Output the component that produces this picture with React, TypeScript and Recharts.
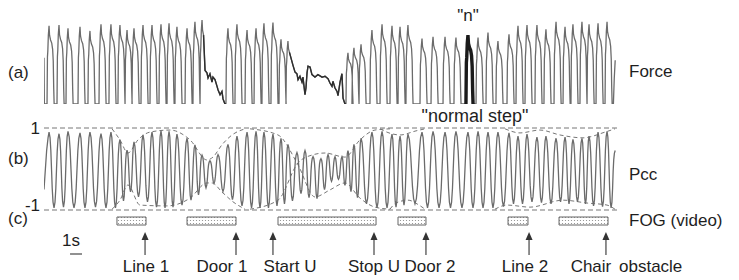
import React from "react";
import {
  ComposedChart,
  LineChart,
  Line,
  XAxis,
  YAxis,
  ReferenceLine,
  ReferenceArea,
  Scatter,
} from "recharts";

const W = 739;
const H = 280;
const T_END = 48; // seconds shown on the time axis
const FONT = "'Liberation Sans', Arial, Helvetica, sans-serif";
const INK = "#1e1e1e";
const TRACE = "#6b6b6b";

// ---- (a) Force: step peaks (time in s, peak force in % of max)
const seg1Times = [0.42, 1.25, 2.0, 3.0, 3.83, 4.75, 5.58, 6.33, 6.92, 7.5, 8.25, 9.0, 9.75, 10.42, 11.08, 11.92, 12.58, 13.17];
const seg1Peaks = [93, 94, 90, 92, 87, 95, 95, 94, 88, 90, 94, 94, 95, 96, 92, 90, 98, 100];
const seg2Times = [15.33, 16.08, 16.92, 17.67, 18.33, 19.08, 19.75, 20.33];
const seg2Peaks = [90, 95, 88, 90, 96, 97, 77, 75];
const seg3Times = [25.33, 25.83, 26.42, 27.33, 28.17, 29.0, 29.67, 30.33, 31.5, 32.42, 33.42, 34.33, 35.33, 36.17, 37.0, 37.83, 38.75, 39.5, 40.25, 41.08, 41.83, 42.67, 43.42, 44.08, 44.83, 45.42, 46.17, 46.92];
const seg3Peaks = [61, 67, 71, 88, 95, 93, 92, 94, 78, 80, 80, 79, 82, 79, 85, 75, 83, 93, 94, 94, 89, 98, 92, 95, 98, 95, 96, 98];
const normalStepTime = 35.33;

// force during freezing episodes (trembling, no clean steps)
const fog1T = [13.42, 13.58, 13.67, 13.83, 14.0, 14.08, 14.25, 14.42, 14.5, 14.67, 14.83, 14.92, 15.08, 15.12];
const fog1F = [40, 37, 31, 36, 26, 32, 29, 21, 17, 11, 15, 6, 0, 0];
const fog2T = [20.75, 20.92, 21.08, 21.17, 21.33, 21.5, 21.58, 21.75, 21.83, 21.92, 22.0, 22.17, 22.33, 22.58, 22.83, 23.17, 23.42, 23.67, 23.83, 24.0, 24.08, 24.25, 24.42, 24.5, 24.67, 24.83, 24.92, 25.08];
const fog2F = [46, 38, 36, 29, 33, 26, 32, 11, 19, 37, 45, 44, 35, 32, 35, 32, 33, 30, 25, 21, 27, 19, 15, 10, 26, 36, 7, 0];
const leadT = [0, 0.03];
const leadF = [55, 0];
const tailT = [47.45, 47.52, 47.6];
const tailF = [0, 30, 52];

// shape of one step around its peak: [seconds from peak, fraction of peak]
const stepShape: [number, number][] = [
  [-0.167, 0], [-0.133, 0.6], [-0.1, 0.68], [-0.058, 0.88], [0, 1], [0.042, 0.88],
  [0.125, 0.82], [0.225, 0.78], [0.3, 0.7], [0.35, 0.55], [0.39, 0.2], [0.425, 0],
];

// ---- (b) Pcc: per cycle maximum and following minimum
const pccTimes = [0.42, 1.25, 2.0, 3.0, 3.83, 4.75, 5.58, 6.33, 6.92, 7.5, 8.25, 9.0, 9.75, 10.42, 11.08, 11.92, 12.58, 13.17, 13.83, 14.5, 15.33, 16.08, 16.92, 17.67, 18.33, 19.08, 19.75, 20.33, 21.08, 21.75, 22.42, 23.08, 23.67, 24.25, 24.83, 25.33, 25.83, 26.42, 27.33, 28.17, 29.0, 29.67, 30.33, 31.5, 32.42, 33.42, 34.33, 35.33, 36.17, 37.0, 37.83, 38.75, 39.5, 40.25, 41.08, 41.83, 42.67, 43.42, 44.08, 44.83, 45.42, 46.17, 46.92];
const pccHigh = [0.9, 0.86, 0.92, 0.88, 0.9, 0.86, 0.9, 0.72, 0.46, 0.66, 0.83, 0.9, 0.93, 0.92, 0.85, 0.75, 0.59, 0.34, 0.2, 0.35, 0.6, 0.8, 0.9, 0.92, 0.9, 0.85, 0.75, 0.6, 0.4, 0.45, 0.3, 0.25, 0.35, 0.3, 0.3, 0.45, 0.6, 0.75, 0.9, 0.92, 0.85, 0.8, 0.85, 0.9, 0.92, 0.9, 0.92, 0.9, 0.92, 0.9, 0.9, 0.88, 0.8, 0.85, 0.78, 0.8, 0.75, 0.78, 0.72, 0.75, 0.8, 0.9, 0.92];
const pccLow = [-0.95, -0.93, -0.95, -0.95, -0.93, -0.95, -0.95, -0.78, -0.56, -0.68, -0.8, -0.93, -0.95, -0.93, -0.88, -0.76, -0.63, -0.46, -0.35, -0.55, -0.75, -0.9, -0.95, -0.95, -0.95, -0.9, -0.85, -0.78, -0.6, -0.7, -0.72, -0.5, -0.3, -0.25, -0.4, -0.55, -0.7, -0.85, -0.95, -0.95, -0.93, -0.88, -0.85, -0.95, -0.95, -0.95, -0.95, -0.95, -0.95, -0.95, -0.92, -0.85, -0.85, -0.8, -0.82, -0.85, -0.8, -0.85, -0.8, -0.85, -0.9, -0.92, -0.95];
const pccStart = -0.5;
const pccEndTime = 47.6;
const pccEndValue = 0.45;

// dashed amplitude envelopes: [time s, pcc]
const envelopes: [number, number][][] = [
  [[5.67, 0.98], [6.33, 0.71], [7.0, 0.39], [7.83, 0.71], [8.83, 0.9], [10.5, 0.95], [12.17, 0.71], [13.58, 0.22], [14.08, 0.29], [14.83, 0.59], [15.67, 0.83], [16.75, 0.98]],
  [[5.67, -0.98], [6.33, -0.76], [7.0, -0.39], [8.0, -0.88], [10.25, -0.9], [12.17, -0.71], [13.58, -0.34], [14.0, -0.34], [14.83, -0.56], [15.75, -0.8], [16.75, -0.98]],
  [[17.17, 0.98], [19.5, 0.83], [21.17, 0.1], [22.58, -0.68], [23.83, -0.51], [25.08, -0.34], [26.33, -0.71], [27.58, -0.93], [28.83, -0.98]],
  [[17.17, -0.98], [19.5, -0.76], [21.17, 0.15], [22.33, 0.34], [23.42, 0.39], [25.08, 0.29], [26.33, 0.71], [27.58, 0.95], [28.83, 0.98]],
  [[28.0, 0.98], [28.75, 0.88], [29.67, 0.83], [31.0, 0.93], [31.75, 0.98]],
  [[28.83, -0.98], [29.33, -0.83], [30.33, -0.76], [31.25, -0.88], [31.75, -0.98]],
  [[38.42, 0.98], [39.67, 0.88], [41.33, 0.95], [43.0, 0.83], [44.92, 0.76], [46.75, 0.9], [47.58, 0.98]],
  [[37.58, -0.98], [38.58, -0.88], [40.5, -0.93], [43.25, -0.76], [45.25, -0.83], [46.92, -0.88], [47.58, -0.98]],
];

// ---- (c) FOG episodes from video (start, end in s) and obstacles
const fogStart = [6.08, 11.92, 19.5, 29.5, 38.67, 42.92];
const fogEnd = [8.5, 16.0, 27.67, 31.83, 40.33, 47.0];
const obstacleNames = ["Line 1", "Door 1", "Start U", "Stop U", "Door 2", "Line 2", "Chair"];
const obstacleTimes = [8.42, 16.0, 19.08, 27.5, 31.83, 40.42, 46.83];
const obstacleLabelTimes = [8.5, 14.83, 20.5, 27.5, 32.17, 40.08, 45.58];
const scaleBar = [2.17, 3.17]; // 1 s

type Pt = { t: number; v: number };

const zipPts = (ts: number[], vs: number[]): Pt[] => ts.map((t, i) => ({ t, v: vs[i] }));

function stepTrace(times: number[], peaks: number[], cutLast = false): Pt[] {
  const pts: Pt[] = [];
  times.forEach((t, i) => {
    const shape = cutLast && i === times.length - 1 ? stepShape.filter(([dt]) => dt <= 0.13) : stepShape;
    shape.forEach(([dt, f]) => pts.push({ t: t + dt, v: peaks[i] * f }));
  });
  return pts;
}

const s1 = stepTrace(seg1Times, seg1Peaks, true);
const s2 = stepTrace(seg2Times, seg2Peaks, true);
const s3 = stepTrace(seg3Times, seg3Peaks);
const f1 = zipPts(fog1T, fog1F);
const f2 = zipPts(fog2T, fog2F);
const forceData: Pt[] = [...zipPts(leadT, leadF), ...s1, ...f1, ...s2, ...f2, ...s3, ...zipPts(tailT, tailF)];
const fog1Line = [s1[s1.length - 1], ...f1, s2[0]];
const fog2Line = [s2[s2.length - 1], ...f2, s3[0]];
const nIdx = seg3Times.indexOf(normalStepTime);
const normalStep = stepTrace([seg3Times[nIdx]], [seg3Peaks[nIdx]]);

// fractions of the cycle after each maximum: [fraction, which level, factor]
const pccShape: [number, "h" | "l" | "m1" | "m2" | "hn", number][] = [
  [0, "h", 1], [0.1, "h", 0.85], [0.18, "h", 0.5], [0.25, "m1", 0.1], [0.32, "l", 0.5],
  [0.4, "l", 0.85], [0.5, "l", 1], [0.6, "l", 0.85], [0.68, "l", 0.5], [0.75, "m2", 0.1],
  [0.82, "hn", 0.5], [0.9, "hn", 0.85],
];

function pccTrace(): Pt[] {
  const pts: Pt[] = [{ t: 0, v: pccStart }];
  const n = pccTimes.length;
  for (let i = 0; i < n; i++) {
    const p = pccTimes[i];
    const h = pccHigh[i];
    const l = pccLow[i];
    const next = i < n - 1 ? pccTimes[i + 1] : pccEndTime;
    const hn = i < n - 1 ? pccHigh[i + 1] : pccEndValue;
    const d = next - p;
    if (i === 0) pts.push({ t: p - 0.2, v: 0.5 * h }, { t: p - 0.08, v: 0.85 * h });
    const level = { h, l, hn, m1: h + l, m2: l + hn };
    pccShape.forEach(([f, k, s]) => pts.push({ t: p + f * d, v: level[k] * s }));
  }
  pts.push({ t: pccEndTime, v: pccEndValue });
  return pts;
}
const pccData = pccTrace();

const layer: React.CSSProperties = { position: "absolute", left: 0, top: 0 };

function Arrow(props: any) {
  const { cx, cy } = props;
  if (cx == null || cy == null) return null;
  return (
    <g>
      <path d={`M${cx},${cy} L${cx - 3.5},${cy + 8} L${cx + 3.5},${cy + 8} Z`} fill="#333" />
      <line x1={cx} y1={cy + 6} x2={cx} y2={cy + 23} stroke="#333" strokeWidth={1.1} />
    </g>
  );
}

function PccTick(props: any) {
  const { x, y, payload } = props;
  const neg = payload.value < 0;
  return (
    <text x={x} y={y} dy={neg ? 1 : 6} textAnchor="end" fontSize={17} fontFamily={FONT} fill={INK}>
      {neg ? "-1" : "1"}
    </text>
  );
}

export default function App() {
  const txt = { fontFamily: FONT, fontSize: 17, fill: INK };
  return (
    <div style={{ position: "absolute", left: 0, top: 0, width: W, height: H, background: "#fff", overflow: "hidden" }}>
      {/* (a) force */}
      <div style={layer}>
        <LineChart width={W} height={H} margin={{ top: 20, right: 119, bottom: 176, left: 44 }}>
          <XAxis dataKey="t" type="number" domain={[0, T_END]} allowDataOverflow hide />
          <YAxis domain={[0, 100]} allowDataOverflow hide />
          <Line data={forceData} dataKey="v" type="linear" stroke={TRACE} strokeWidth={1.3} dot={false} isAnimationActive={false} />
          <Line data={fog1Line} dataKey="v" type="linear" stroke="#2e2e2e" strokeWidth={1.4} dot={false} isAnimationActive={false} />
          <Line data={fog2Line} dataKey="v" type="linear" stroke="#2e2e2e" strokeWidth={1.4} dot={false} isAnimationActive={false} />
          <Line data={normalStep} dataKey="v" type="linear" stroke="#1a1a1a" strokeWidth={3.4} dot={false} isAnimationActive={false} />
        </LineChart>
      </div>

      {/* (b) Pcc */}
      <div style={layer}>
        <LineChart width={W} height={H} margin={{ top: 128, right: 119, bottom: 70, left: 0 }}>
          <XAxis dataKey="t" type="number" domain={[0, T_END]} allowDataOverflow hide />
          <YAxis
            domain={[-1, 1]}
            ticks={[-1, 1]}
            width={44}
            axisLine={false}
            tickLine={false}
            tickSize={0}
            tickMargin={4}
            tick={<PccTick />}
            allowDataOverflow
          />
          <ReferenceLine y={1} stroke="#777" strokeDasharray="5 3" />
          <ReferenceLine y={-1} stroke="#777" strokeDasharray="5 3" />
          {envelopes.map((env, i) => (
            <Line
              key={i}
              data={env.map(([t, v]) => ({ t, v }))}
              dataKey="v"
              type="monotone"
              stroke="#777"
              strokeWidth={1}
              strokeDasharray="4 3"
              dot={false}
              isAnimationActive={false}
            />
          ))}
          <Line data={pccData} dataKey="v" type="linear" stroke={TRACE} strokeWidth={1.3} dot={false} isAnimationActive={false} />
        </LineChart>
      </div>

      {/* (c) FOG video + obstacles */}
      <div style={layer}>
        <ComposedChart width={W} height={H} margin={{ top: 212, right: 119, bottom: 0, left: 44 }}>
          <defs>
            <pattern id="fogDots" width="3" height="3" patternUnits="userSpaceOnUse">
              <rect width="3" height="3" fill="#fff" />
              <circle cx="1.5" cy="1.5" r="0.6" fill="#888" />
            </pattern>
          </defs>
          <XAxis
            dataKey="t"
            type="number"
            domain={[0, T_END]}
            allowDataOverflow
            ticks={obstacleLabelTimes}
            interval={0}
            tickFormatter={(_v: number, i: number) => obstacleNames[i]}
            axisLine={false}
            tickLine={false}
            tickSize={0}
            tickMargin={4}
            height={24}
            tick={{ fontSize: 17, fontFamily: FONT, fill: INK }}
          />
          <YAxis dataKey="v" domain={[0, 44]} reversed allowDataOverflow hide />
          {fogStart.map((s, i) => (
            <ReferenceArea
              key={i}
              x1={s}
              x2={fogEnd[i]}
              y1={5}
              y2={13}
              fill="url(#fogDots)"
              fillOpacity={1}
              stroke="#666"
              strokeWidth={1}
            />
          ))}
          <ReferenceLine
            segment={[
              { x: scaleBar[0], y: 42 },
              { x: scaleBar[1], y: 42 },
            ]}
            stroke="#555"
            strokeWidth={1.3}
          />
          <Scatter
            data={obstacleTimes.map((t) => ({ t, v: 20 }))}
            dataKey="v"
            shape={(p: any) => <Arrow {...p} />}
            isAnimationActive={false}
          />
        </ComposedChart>
      </div>

      {/* panel letters and annotations */}
      <svg width={W} height={H} style={{ ...layer, pointerEvents: "none" }}>
        <text x={8} y={78} {...txt}>(a)</text>
        <text x={8} y={164} {...txt}>(b)</text>
        <text x={8} y={224} {...txt}>(c)</text>
        <text x={629} y={77} {...txt}>Force</text>
        <text x={629} y={180} {...txt}>Pcc</text>
        <text x={629} y={226} {...txt}>FOG (video)</text>
        <text x={468} y={21} textAnchor="middle" {...txt}>"n"</text>
        <text x={475} y={122} textAnchor="middle" {...txt} fontSize={18}>"normal step"</text>
        <text x={62} y={246} {...txt}>1s</text>
        <text x={619} y={272} {...txt}>obstacle</text>
      </svg>
    </div>
  );
}
